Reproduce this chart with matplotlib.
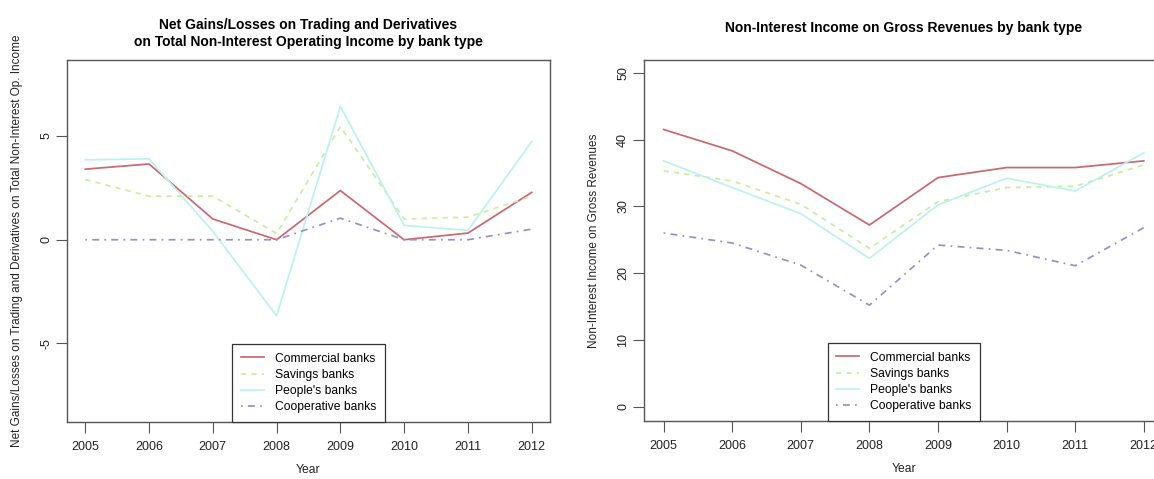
import matplotlib.pyplot as plt

plt.rcParams['font.family'] = ['Liberation Sans', 'DejaVu Sans']

years = [2005, 2006, 2007, 2008, 2009, 2010, 2011, 2012]
bank_types = ["Commercial banks", "Savings banks", "People's banks", "Cooperative banks"]

# left panel: trading/derivatives gains on non-interest op. income
trading_commercial = [3.4, 3.65, 1.0, 0.0, 2.37, 0.0, 0.32, 2.28]
trading_savings = [2.9, 2.1, 2.1, 0.3, 5.46, 1.0, 1.09, 2.09]
trading_people = [3.85, 3.9, 0.4, -3.66, 6.42, 0.69, 0.45, 4.73]
trading_coop = [0.0, 0.0, 0.0, 0.0, 1.04, 0.0, 0.0, 0.51]

# right panel: non-interest income on gross revenues
nii_commercial = [41.5, 38.3, 33.4, 27.2, 34.3, 35.8, 35.8, 36.8]
nii_savings = [35.3, 33.8, 30.3, 23.7, 30.7, 32.8, 33.0, 36.2]
nii_people = [36.8, 32.8, 28.9, 22.2, 30.2, 34.2, 32.3, 38.0]
nii_coop = [26.0, 24.5, 21.2, 15.2, 24.2, 23.4, 21.1, 26.8]

colors = ['#cc6670', '#c8eea0', '#bcf2ee', '#9a8ec8']
styles = ['-', (0, (3, 3)), '-', (0, (1, 3, 4, 3))]

fig = plt.figure(figsize=(11.54, 4.79), dpi=100)
ax1 = fig.add_axes([0.0584, 0.1196, 0.4178, 0.7551])
ax2 = fig.add_axes([0.5584, 0.1217, 0.4494, 0.7530])


def draw(ax, series, ylim, yticks, ylabel, title, tpad):
    for vals, c, ls, lab in zip(series, colors, styles, bank_types):
        ax.plot(years, vals, color=c, linestyle=ls, linewidth=1.25, label=lab)
    ax.set_xlim(2004.72, 2012.28)
    ax.set_ylim(*ylim)
    ax.set_xticks(years)
    ax.set_yticks(yticks)
    ax.set_yticklabels([str(t) for t in yticks], rotation=90, va='center')
    ax.tick_params(axis='both', length=8, width=0.8, color='#555555',
                   labelsize=9, labelcolor='#222222')
    ax.tick_params(axis='x', pad=6)
    ax.tick_params(axis='y', pad=3)
    for s in ax.spines.values():
        s.set_color('#555555')
        s.set_linewidth(1.0)
    ax.set_xlabel("Year", fontsize=8.7, labelpad=8, color='#222222')
    ax.set_ylabel(ylabel, fontsize=8.5, labelpad=12, color='#222222')
    ax.set_title(title, fontsize=10, fontweight='bold', pad=tpad, linespacing=1.3)
    leg = ax.legend(loc='lower center', borderaxespad=0, fontsize=8.7,
                    fancybox=False, framealpha=1, edgecolor='#333333',
                    handlelength=1.9, handletextpad=0.9, labelspacing=0.35,
                    borderpad=0.7)
    leg.get_frame().set_linewidth(0.9)


draw(ax1, [trading_commercial, trading_savings, trading_people, trading_coop],
     (-8.77, 8.66), [-5, 0, 5],
     "Net Gains/Losses on Trading and Derivatives on Total Non-Interest Op. Income",
     "Net Gains/Losses on Trading and Derivatives\non Total Non-Interest Operating Income by bank type",
     10)

draw(ax2, [nii_commercial, nii_savings, nii_people, nii_coop],
     (-2.1, 51.9), [0, 10, 20, 30, 40, 50],
     "Non-Interest Income on Gross Revenues",
     "Non-Interest Income on Gross Revenues by bank type",
     20)

fig.savefig("out.png", dpi=100)
